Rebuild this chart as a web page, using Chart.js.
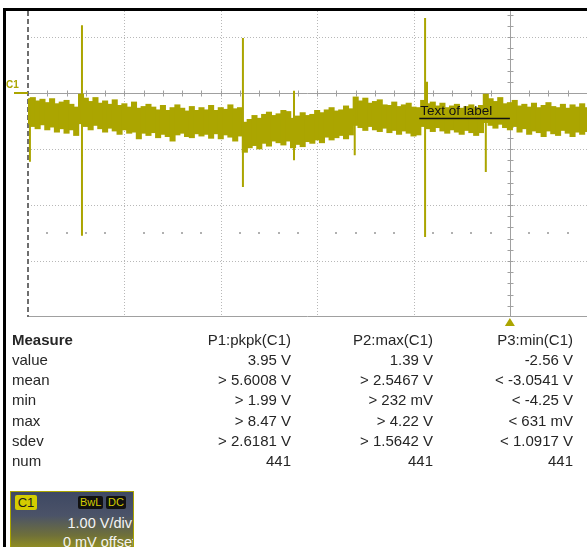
<!DOCTYPE html>
<html>
<head>
<meta charset="utf-8">
<script src="https://cdn.jsdelivr.net/npm/chart.js@4.4.0/dist/chart.umd.min.js"></script>
<style>
  html, body { margin: 0; padding: 0; background: #fff; }
  body { width: 587px; height: 547px; overflow: hidden; position: relative; font-family: "Liberation Sans", Arial, sans-serif; }
  #frame { position: absolute; left: 3px; top: 8px; width: 620px; height: 560px; border-top: 3px solid #000; border-left: 3px solid #000; }
  #scope { position: absolute; left: 6px; top: 11px; }
  .mrow { position: absolute; left: 0; width: 587px; height: 20px; line-height: 20px; font-size: 15px; color: #262626; }
  .mrow span { position: absolute; white-space: nowrap; }
  .mrow .name { left: 12px; }
  .mrow.head .name { font-weight: bold; }
  #badge { position: absolute; left: 10px; top: 491px; width: 122px; height: 62px; border: 1px solid #aaa400; overflow: hidden;
    background: linear-gradient(to bottom, #3e4863 0%, #4b5368 38%, #6f703a 70%, #a29d14 100%); }
  #badge .tag { position: absolute; font-size: 11px; line-height: 13px; padding: 0 2px; border-radius: 2px; }
  #badge .c1 { left: 4px; top: 3px; width: 18px; text-align: center; background: #d4cc00; color: #1a1a1a; font-size: 13px; line-height: 15px; }
  #badge .bw { left: 67px; top: 4px; background: #111; color: #d4cc00; }
  #badge .dc { left: 95px; top: 4px; background: #111; color: #d4cc00; }
  #badge .txt { position: absolute; right: 1px; color: #f4f4f4; font-size: 14.5px; line-height: 18px; white-space: nowrap; }
</style>
</head>
<body>
<div id="frame"></div>
<canvas id="scope" width="581" height="320"></canvas>
<div id="measure"></div>
<div id="badge">
  <span class="tag c1">C1</span><span class="tag bw">BwL</span><span class="tag dc">DC</span>
  <div class="txt" style="top:22px">1.00 V/div</div>
  <div class="txt" style="top:41px; right:-3px">0 mV offset</div>
</div>
<script>
// time axis in divisions, one sample every 0.05 div
const sampleStep = 0.05;

// noise band of channel C1 (volts)
const upperVolts = [
  -0.10, -0.08, -0.14, -0.11, -0.17, -0.10, -0.19, -0.16, -0.13, -0.20,
  -0.25, -0.02, -0.09, -0.15, -0.08, -0.18, -0.14, -0.20, -0.12, -0.22,
  -0.19, -0.25, -0.16, -0.27, -0.24, -0.20, -0.25, -0.30, -0.22, -0.31,
  -0.26, -0.21, -0.27, -0.32, -0.24, -0.31, -0.26, -0.30, -0.22, -0.31,
  -0.26, -0.29, -0.21, -0.28, -0.26, -0.52, -0.47, -0.40, -0.45, -0.38,
  -0.34, -0.40, -0.37, -0.31, -0.33, -0.45, -0.41, -0.35, -0.40, -0.38,
  -0.31, -0.35, -0.30, -0.26, -0.32, -0.30, -0.23, -0.28, -0.07, -0.14,
  -0.09, -0.18, -0.15, -0.12, -0.21, -0.22, -0.16, -0.24, -0.21, -0.18,
  -0.25, -0.26, -0.13, -0.19, -0.16, -0.23, -0.18, -0.26, -0.23, -0.20,
  -0.27, -0.24, -0.21, -0.26, -0.22, -0.02, -0.10, -0.15, -0.08, -0.19,
  -0.17, -0.13, -0.23, -0.20, -0.25, -0.18, -0.26, -0.22, -0.17, -0.24,
  -0.26, -0.20, -0.27, -0.21, -0.25, -0.19, -0.26
];
const lowerVolts = [
  -0.55, -0.60, -0.64, -0.57, -0.66, -0.61, -0.70, -0.64, -0.72, -0.66,
  -0.76, -0.55, -0.60, -0.66, -0.58, -0.64, -0.70, -0.63, -0.68, -0.74,
  -0.66, -0.72, -0.70, -0.82, -0.72, -0.76, -0.71, -0.80, -0.74, -0.78,
  -0.86, -0.75, -0.72, -0.78, -0.80, -0.73, -0.77, -0.74, -0.81, -0.73,
  -0.82, -0.75, -0.79, -0.86, -0.77, -1.06, -0.98, -0.94, -1.00, -0.90,
  -0.95, -0.86, -0.89, -0.93, -0.86, -0.98, -0.92, -0.96, -0.87, -0.90,
  -0.84, -0.89, -0.79, -0.84, -0.80, -0.76, -0.82, -0.75, -0.58, -0.62,
  -0.67, -0.60, -0.66, -0.69, -0.63, -0.71, -0.67, -0.74, -0.68, -0.72,
  -0.77, -0.75, -0.60, -0.64, -0.69, -0.62, -0.68, -0.72, -0.66, -0.70,
  -0.74, -0.67, -0.71, -0.76, -0.71, -0.53, -0.58, -0.63, -0.56, -0.62,
  -0.66, -0.60, -0.70, -0.64, -0.74, -0.68, -0.71, -0.78, -0.68, -0.73,
  -0.76, -0.67, -0.72, -0.78, -0.70, -0.74, -0.69
];

// glitches (time in div, extremes in volts)
const spikeTimes = [0.02, 0.56, 2.23, 2.76, 3.39, 4.12, 4.14, 4.75];
const spikeHigh  = [-0.10, 1.21, 0.98, 0.04, -0.07, 1.34, 0.20, -0.02];
const spikeLow   = [-1.23, -2.55, -1.68, -1.20, -1.11, -2.57, -0.40, -1.41];

// measurement table
const measureHeaders = ['P1:pkpk(C1)', 'P2:max(C1)', 'P3:min(C1)'];
const measureNames = ['value', 'mean', 'min', 'max', 'sdev', 'num'];
const p1Values = ['3.95 V', '> 5.6008 V', '> 1.99 V', '> 8.47 V', '> 2.6181 V', '441'];
const p2Values = ['1.39 V', '> 2.5467 V', '> 232 mV', '> 4.22 V', '> 1.5642 V', '441'];
const p3Values = ['-2.56 V', '< -3.0541 V', '< -4.25 V', '< 631 mV', '< 1.0917 V', '441'];

const traceColor = '#aba500';
const triggerTime = 5;
const labelText = 'Text of label';

const times = upperVolts.map((v, i) => +(i * sampleStep).toFixed(2));
const spikeData = [];
spikeTimes.forEach((t, i) => {
  spikeData.push({ x: t, y: spikeHigh[i] }, { x: t, y: spikeLow[i] }, { x: t, y: null });
});

// graticule drawn behind the trace
const graticule = {
  id: 'graticule',
  beforeDatasetsDraw(chart) {
    const { ctx, chartArea: a, scales: { x, y } } = chart;
    ctx.save();
    ctx.lineWidth = 1;
    // dotted division lines
    ctx.strokeStyle = '#b8b8b8';
    ctx.setLineDash([1, 2]);
    for (let d = 1; d <= Math.floor(x.max); d++) {
      if (d === triggerTime) continue;
      const px = Math.round(x.getPixelForValue(d)) + 0.5;
      ctx.beginPath(); ctx.moveTo(px, a.top); ctx.lineTo(px, a.bottom); ctx.stroke();
    }
    for (let v = Math.ceil(y.min) + 1; v <= Math.floor(y.max); v++) {
      if (v === 0) continue;
      const py = Math.round(y.getPixelForValue(v)) + 0.5;
      ctx.beginPath(); ctx.moveTo(a.left, py); ctx.lineTo(a.right, py); ctx.stroke();
    }
    ctx.setLineDash([]);
    // dots on the -2.5 V level
    ctx.fillStyle = '#b0b0b0';
    const dotY = Math.round(y.getPixelForValue(-2.5));
    for (let t = 0.2; t < x.max; t += 0.2) {
      if (Math.abs(t - Math.round(t)) < 0.01) continue;
      ctx.fillRect(Math.round(x.getPixelForValue(t)) - 1, dotY - 1, 2, 2);
    }
    // centre axes with minor ticks
    ctx.strokeStyle = '#a0a0a0';
    const zy = Math.round(y.getPixelForValue(0)) + 0.5;
    ctx.beginPath(); ctx.moveTo(a.left, zy); ctx.lineTo(a.right, zy); ctx.stroke();
    for (let t = 0.2; t < x.max; t += 0.2) {
      const px = Math.round(x.getPixelForValue(t)) + 0.5;
      ctx.beginPath(); ctx.moveTo(px, zy - 3); ctx.lineTo(px, zy + 3); ctx.stroke();
    }
    const tx = Math.round(x.getPixelForValue(triggerTime)) + 0.5;
    ctx.beginPath(); ctx.moveTo(tx, a.top); ctx.lineTo(tx, a.bottom); ctx.stroke();
    for (let v = y.min + 0.2; v < y.max; v += 0.2) {
      const py = Math.round(y.getPixelForValue(v)) + 0.5;
      ctx.beginPath(); ctx.moveTo(tx - 3, py); ctx.lineTo(tx + 3, py); ctx.stroke();
    }
    // bottom edge
    const by = Math.round(y.getPixelForValue(y.min)) - 0.5;
    ctx.beginPath(); ctx.moveTo(a.left, by); ctx.lineTo(a.right, by); ctx.stroke();
    // left edge, dashed
    ctx.strokeStyle = '#6e6e6e';
    ctx.lineWidth = 2;
    ctx.setLineDash([5, 3]);
    const lx = Math.round(x.getPixelForValue(0));
    ctx.beginPath(); ctx.moveTo(lx, a.top); ctx.lineTo(lx, a.bottom); ctx.stroke();
    ctx.restore();
  },
  afterDatasetsDraw(chart) {
    const { ctx, chartArea: a, scales: { x, y } } = chart;
    ctx.save();
    // label annotation
    ctx.fillStyle = '#111';
    ctx.font = '13.5px "Liberation Sans", Arial, sans-serif';
    ctx.textBaseline = 'alphabetic';
    ctx.fillText(labelText, x.getPixelForValue(4.07), y.getPixelForValue(-0.39));
    ctx.strokeStyle = '#111';
    ctx.lineWidth = 1.5;
    const uy = y.getPixelForValue(-0.455);
    ctx.beginPath(); ctx.moveTo(x.getPixelForValue(4.06), uy); ctx.lineTo(x.getPixelForValue(triggerTime), uy); ctx.stroke();
    // channel ground marker
    const zy = y.getPixelForValue(0);
    ctx.fillStyle = traceColor;
    ctx.font = 'bold 10px "Liberation Sans", Arial, sans-serif';
    ctx.fillText('C1', a.left - 22, zy - 5);
    ctx.strokeStyle = traceColor;
    ctx.lineWidth = 2;
    ctx.beginPath(); ctx.moveTo(a.left - 14, zy); ctx.lineTo(a.left, zy); ctx.stroke();
    // trigger position marker
    const tx = x.getPixelForValue(triggerTime);
    ctx.beginPath();
    ctx.moveTo(tx, a.bottom + 1); ctx.lineTo(tx + 5, a.bottom + 9); ctx.lineTo(tx - 5, a.bottom + 9);
    ctx.closePath(); ctx.fill();
    ctx.restore();
  }
};

new Chart(document.getElementById('scope'), {
  type: 'bar',
  data: {
    datasets: [
      { type: 'bar', data: times.map((t, i) => ({ x: t, y: [lowerVolts[i], upperVolts[i]] })),
        backgroundColor: traceColor, borderWidth: 0, barThickness: 5.4, order: 2 },
      { type: 'line', data: spikeData, fill: false, spanGaps: false, borderColor: traceColor,
        borderWidth: 2, pointRadius: 0, order: 1 }
    ]
  },
  options: {
    responsive: false,
    animation: false,
    layout: { padding: { left: 22, right: 0, top: 0, bottom: 14 } },
    scales: {
      x: { type: 'linear', min: 0, max: 5.8, offset: false, display: false },
      y: { min: -4, max: 1.464, display: false }
    },
    plugins: { legend: { display: false }, tooltip: { enabled: false } }
  },
  plugins: [graticule]
});

// measurement table rows
const box = document.getElementById('measure');
const colRight = [291, 433, 573];
function addRow(top, name, cells, head) {
  const row = document.createElement('div');
  row.className = 'mrow' + (head ? ' head' : '');
  row.style.top = top + 'px';
  let html = '<span class="name">' + name + '</span>';
  cells.forEach((c, i) => {
    html += '<span style="right:' + (587 - colRight[i]) + 'px">' + c.replace(/</g, '&lt;').replace(/>/g, '&gt;') + '</span>';
  });
  row.innerHTML = html;
  box.appendChild(row);
}
addRow(330, 'Measure', measureHeaders, true);
measureNames.forEach((n, i) => addRow(350 + i * 20.2, n, [p1Values[i], p2Values[i], p3Values[i]], false));
</script>
</body>
</html>
